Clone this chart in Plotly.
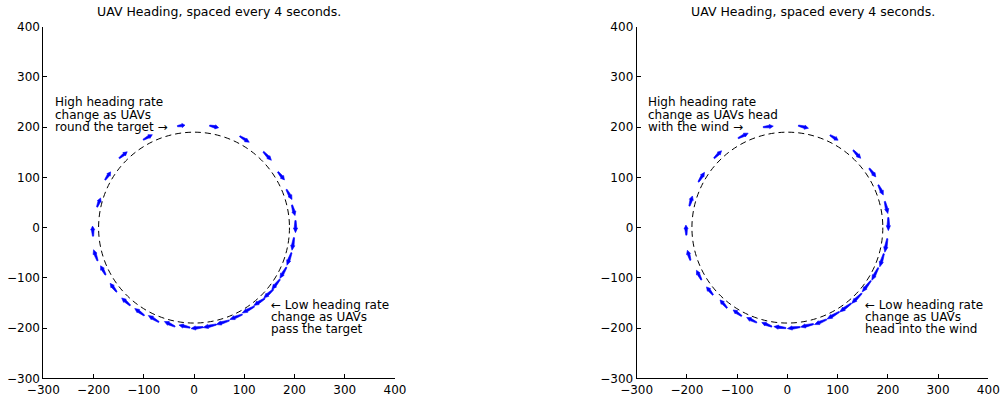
import plotly.graph_objects as go

# Heading arrows (tail position and heading vector), clockwise from the west side
left_x = [-201, -193, -177, -149, -101, -33, 31, 91, 138, 167, 184, 195, 202,
          199, 194, 184, 171, 158, 141, 120, 96, 70, 44, 18,
          -8, -38, -70, -99, -127, -154, -176, -192]
left_y = [-17, 41, 95, 138, 175, 202, 203, 182, 151, 111, 76, 45, 14,
          -20, -50, -79, -103, -123, -141, -157, -173, -185, -193, -198,
          -199, -197, -188, -175, -155, -128, -94, -66]
left_u = [-1, 7, 11, 16, 18, 15, 18, 19, 16, 13, 11, 6, 0,
          -4, -9, -13, -16, -19, -22, -24, -25, -26, -26, -24,
          -22, -21, -21, -19, -17, -13, -10, -8]
left_v = [20, 18, 16, 13, 10, 2, -4, -12, -17, -16, -20, -21, -24,
          -25, -25, -22, -20, -17, -14, -13, -10, -8, -6, -3,
          5, 10, 13, 14, 15, 17, 18, 22]

right_x = [-201, -195, -177, -146, -98, -48, 22, 85, 131, 163, 181, 194, 201,
           199, 192, 181, 166, 148, 127, 103, 78, 52, 25,
           -3, -31, -61, -91, -120, -148, -171, -193]
right_y = [-15, 43, 91, 138, 178, 200, 203, 184, 154, 118, 85, 52, 20,
           -22, -52, -80, -106, -131, -151, -168, -183, -192, -198,
           -200, -197, -189, -176, -160, -134, -104, -65]
right_u = [-1, 6, 12, 15, 20, 20, 20, 16, 15, 13, 10, 6, 0,
           -5, -8, -13, -17, -20, -23, -24, -24, -26, -25,
           -24, -20, -20, -17, -14, -13, -10, -6]
right_v = [20, 20, 19, 15, 10, 2, -5, -10, -16, -17, -20, -24, -26,
           -27, -26, -25, -22, -20, -17, -14, -10, -6, -3,
           3, 8, 10, 12, 16, 16, 19, 20]

track_radius = 190
tick_vals = [-300, -200, -100, 0, 100, 200, 300, 400]
tick_text = ["\u2212300", "\u2212200", "\u2212100", "0", "100", "200", "300", "400"]

title_text = "UAV Heading, spaced every 4 seconds."
left_high = ["High heading rate", "change as UAVs", "round the target \u2192"]
left_low = ["\u2190 Low heading rate", "change as UAVs", "pass the target"]
right_high = ["High heading rate", "change as UAVs head", "with the wind \u2192"]
right_low = ["\u2190 Low heading rate", "change as UAVs", "head into the wind"]

FONT = "DejaVu Sans"
UNITS_PER_PX = 700 / 351.7


def arrow_polygons(xs, ys, us, vs):
    """Build tapered arrow glyphs (thin tail, wide head), one polygon each."""
    px, py = [], []
    w_tail = 0.6 * UNITS_PER_PX
    w_neck = 1.3 * UNITS_PER_PX
    w_head = 2.1 * UNITS_PER_PX
    for x, y, u, v in zip(xs, ys, us, vs):
        length = (u * u + v * v) ** 0.5
        ux, uy = u / length, v / length
        nx, ny = -uy, ux
        bx, by = x + 0.62 * u, y + 0.62 * v
        tx, ty = x + u, y + v
        pts = [
            (x + nx * w_tail, y + ny * w_tail),
            (bx + nx * w_neck, by + ny * w_neck),
            (bx + nx * w_head, by + ny * w_head),
            (tx, ty),
            (bx - nx * w_head, by - ny * w_head),
            (bx - nx * w_neck, by - ny * w_neck),
            (x - nx * w_tail, y - ny * w_tail),
            (x + nx * w_tail, y + ny * w_tail),
        ]
        for a, b in pts:
            px.append(a)
            py.append(b)
        px.append(None)
        py.append(None)
    return px, py


fig = go.Figure()

panels = [
    ("x", "y", left_x, left_y, left_u, left_v, left_high, left_low),
    ("x2", "y2", right_x, right_y, right_u, right_v, right_high, right_low),
]

for xa, ya, xs, ys, us, vs, high, low in panels:
    ax, ay = arrow_polygons(xs, ys, us, vs)
    fig.add_trace(go.Scatter(
        x=ax, y=ay, xaxis=xa, yaxis=ya, mode="lines",
        fill="toself", fillcolor="rgb(0,0,255)",
        line=dict(color="rgb(0,0,255)", width=0.6),
        hoverinfo="skip", showlegend=False,
    ))
    fig.add_shape(
        type="circle", xref=xa, yref=ya,
        x0=-track_radius, y0=-track_radius, x1=track_radius, y1=track_radius,
        line=dict(color="black", width=1, dash="6px,4px"),
    )
    for i, line in enumerate(high):
        fig.add_annotation(
            x=-281, y=250 - 25 * i, xref=xa, yref=ya, text=line,
            showarrow=False, xanchor="left", yanchor="middle",
            font=dict(family=FONT, size=12, color="black"),
        )
    for i, line in enumerate(low):
        fig.add_annotation(
            x=150, y=-154 - 24 * i, xref=xa, yref=ya, text=line,
            showarrow=False, xanchor="left", yanchor="middle",
            font=dict(family=FONT, size=12, color="black"),
        )

for xc in (0.2178, 0.8085):
    fig.add_annotation(
        x=xc, y=1 - 11.5 / 405, xref="paper", yref="paper", text=title_text,
        showarrow=False, xanchor="center", yanchor="middle",
        font=dict(family=FONT, size=12.5, color="black"),
    )

axis_common = dict(
    range=[-300, 400], tickmode="array", tickvals=tick_vals, ticktext=tick_text,
    showline=True, linecolor="black", linewidth=1, mirror=False,
    ticks="inside", ticklen=4, tickcolor="black",
    showgrid=False, zeroline=False, automargin=False,
    tickfont=dict(family=FONT, size=12, color="black"),
)

fig.update_layout(
    width=1005, height=405,
    margin=dict(l=0, r=0, t=0, b=0, autoexpand=False),
    paper_bgcolor="white", plot_bgcolor="white",
    xaxis=dict(domain=[0.0431, 0.3930], anchor="y", **axis_common),
    yaxis=dict(domain=[0.0659, 0.9341], anchor="x", **axis_common),
    xaxis2=dict(domain=[0.6335, 0.9834], anchor="y2", **axis_common),
    yaxis2=dict(domain=[0.0659, 0.9341], anchor="x2", **axis_common),
)

fig.write_html("out.html")
